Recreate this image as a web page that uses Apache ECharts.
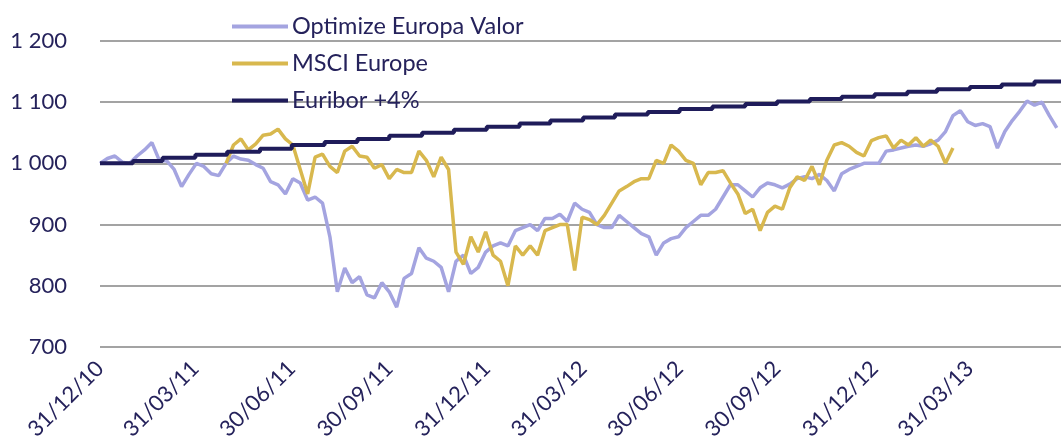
<!DOCTYPE html>
<html>
<head>
<meta charset="utf-8">
<title>Optimize Europa Valor</title>
<script src="https://cdn.jsdelivr.net/npm/echarts@6/dist/echarts.min.js"></script>
<style>
    html, body { margin: 0; padding: 0; background: #fff; }
    #main { width: 1061px; height: 443px; }
</style>
</head>
<body>
<div id="main"></div>
<script>
// weekly points, first one on 31/12/10
var startDate = '2010-12-31';
var stepDays = 7;

var seriesNames = ['Optimize Europa Valor', 'MSCI Europe', 'Euribor +4%'];

var optimize = [
    1000, 1008, 1012, 1002, 1000, 1012, 1022, 1034, 1005, 1004,
    990, 962, 982, 1000, 995, 983, 980, 1000, 1012, 1007,
    1005, 998, 992, 970, 965, 950, 975, 968, 940, 945,
    935, 880, 790, 829, 805, 815, 785, 780, 805, 790,
    765, 812, 820, 862, 845, 840, 830, 790, 840, 850,
    820, 830, 855, 865, 870, 865, 890, 895, 900, 890,
    910, 910, 917, 905, 935, 925, 920, 900, 895, 895,
    915, 905, 895, 885, 880, 850, 870, 877, 880, 895,
    905, 915, 915, 925, 945, 965, 965, 955, 945, 960,
    968, 965, 960, 966, 975, 978, 975, 982, 972, 955,
    983, 990, 995, 1000, 1000, 1000, 1020, 1022, 1025, 1028,
    1030, 1028, 1032, 1038, 1052, 1078, 1086, 1068, 1062, 1065,
    1060, 1025, 1052, 1070, 1085, 1102, 1095, 1100, 1078, 1058
];

// MSCI Europe only starts in april 2011 and stops in march 2013
var msci = [
    null, null, null, null, null, null, null, null, null, null,
    null, null, null, null, null, null, null, 1000, 1030, 1040,
    1022, 1032, 1046, 1048, 1056, 1040, 1030, 990, 950, 1010,
    1015, 995, 985, 1020, 1028, 1012, 1010, 992, 998, 975,
    990, 985, 985, 1020, 1005, 978, 1010, 990, 855, 835,
    880, 855, 888, 850, 840, 800, 865, 850, 865, 850,
    890, 895, 900, 900, 825, 912, 908, 900, 915, 935,
    955, 962, 970, 975, 975, 1005, 1000, 1030, 1020, 1005,
    1000, 965, 985, 985, 988, 968, 950, 918, 925, 890,
    920, 930, 925, 960, 978, 972, 995, 965, 1005, 1030,
    1034, 1028, 1018, 1012, 1037, 1042, 1045, 1025, 1038, 1030,
    1042, 1028, 1038, 1028, 1000, 1025, null, null, null, null,
    null, null, null, null, null, null, null, null, null, null
];

// Euribor +4% : month end values
var euriborDates = [
    '2010-12-31', '2011-01-31', '2011-02-28', '2011-03-31', '2011-04-30', '2011-05-31',
    '2011-06-30', '2011-07-31', '2011-08-31', '2011-09-30', '2011-10-31', '2011-11-30',
    '2011-12-31', '2012-01-31', '2012-02-29', '2012-03-31', '2012-04-30', '2012-05-31',
    '2012-06-30', '2012-07-31', '2012-08-31', '2012-09-30', '2012-10-31', '2012-11-30',
    '2012-12-31', '2013-01-31', '2013-02-28', '2013-03-31', '2013-04-30', '2013-05-31',
    '2013-06-30'
];
var euribor = [
    1000, 1004, 1009, 1014, 1019, 1024,
    1030, 1035, 1040, 1045, 1050, 1055,
    1060, 1065, 1070, 1075, 1080, 1084,
    1089, 1093, 1097, 1101, 1105, 1109,
    1113, 1117, 1121, 1125, 1129, 1134,
    1139
];

var tickDates = ['2010-12-31', '2011-03-31', '2011-06-30', '2011-09-30', '2011-12-31',
    '2012-03-31', '2012-06-30', '2012-09-30', '2012-12-31', '2013-03-31'];
var axisEnd = '2013-06-25';

var textColor = '#25225b';
var fontName = 'Lato';

function toTime(s) {
    var p = s.split('-');
    return new Date(+p[0], +p[1] - 1, +p[2]).getTime();
}

function pad(n) {
    return n < 10 ? '0' + n : '' + n;
}

drawChart();

function drawChart() {
    var myChart = echarts.init(document.getElementById('main'));

    var t0 = toTime(startDate);
    var optData = [], msciData = [], eurData = [];
    for (var i = 0; i < optimize.length; i++) {
        var t = t0 + i * stepDays * 86400000;
        optData.push([t, optimize[i]]);
        msciData.push([t, msci[i]]);
    }
    for (var j = 0; j < euribor.length; j++) {
        eurData.push([toTime(euriborDates[j]), euribor[j]]);
    }

    var option = {
        animation: false,
        textStyle: { fontFamily: fontName },
        grid: {
            left: 100,
            right: 0,
            top: 41,
            bottom: 93,
            containLabel: false
        },
        legend: {
            data: seriesNames,
            orient: 'vertical',
            left: 232,
            top: 13,
            padding: 0,
            icon: 'rect',
            itemWidth: 56,
            itemHeight: 4,
            itemGap: 10,
            textStyle: {
                color: textColor,
                fontSize: 23.5,
                lineHeight: 27,
                padding: [0, 0, 0, -1]
            }
        },
        // dates kept as timestamps on a value axis, labels only on quarter ends
        xAxis: {
            type: 'value',
            min: toTime(startDate),
            max: toTime(axisEnd),
            axisLine: { show: false },
            axisTick: { show: false },
            splitLine: { show: false },
            axisLabel: {
                customValues: tickDates.map(toTime),
                rotate: 45,
                margin: 18,
                color: textColor,
                fontSize: 22,
                fontFamily: fontName,
                formatter: function(v) {
                    var d = new Date(v);
                    return pad(d.getDate()) + '/' + pad(d.getMonth() + 1) + '/' + String(d.getFullYear()).slice(2);
                }
            }
        },
        yAxis: {
            type: 'value',
            min: 700,
            max: 1200,
            interval: 100,
            axisLine: { show: false },
            axisTick: { show: false },
            splitLine: {
                lineStyle: { color: '#a3a3a3', width: 2 }
            },
            axisLabel: {
                margin: 33,
                color: textColor,
                fontSize: 22,
                fontFamily: fontName,
                formatter: function(v) {
                    return String(v).replace(/\B(?=(\d{3})+(?!\d))/g, ' ');
                }
            }
        },
        series: [
            {
                name: seriesNames[0],
                type: 'line',
                data: optData,
                showSymbol: false,
                color: '#a4a4e0',
                lineStyle: { color: '#a4a4e0', width: 3.5 }
            },
            {
                name: seriesNames[1],
                type: 'line',
                data: msciData,
                showSymbol: false,
                connectNulls: false,
                color: '#d8b84e',
                lineStyle: { color: '#d8b84e', width: 3.5 }
            },
            {
                name: seriesNames[2],
                type: 'line',
                data: eurData,
                step: 'end',
                showSymbol: false,
                color: '#1f1c5a',
                lineStyle: { color: '#1f1c5a', width: 4 }
            }
        ]
    };

    myChart.setOption(option);
}
</script>
</body>
</html>
